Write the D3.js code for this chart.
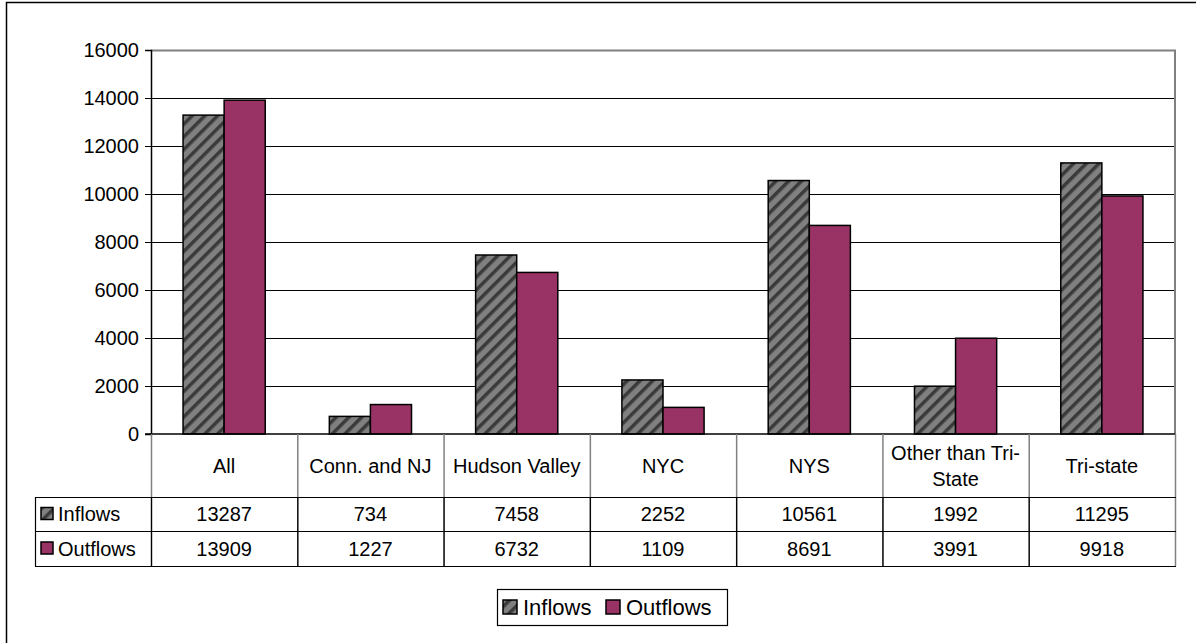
<!DOCTYPE html>
<html><head><meta charset="utf-8">
<script src="https://cdn.jsdelivr.net/npm/d3@7/dist/d3.min.js"></script>
<style>body{margin:0;background:#fff}svg{display:block;font-family:"Liberation Sans",Arial,sans-serif}</style>
</head><body><svg id="c" width="1196" height="643"></svg>
<script>
const categories = ["All","Conn. and NJ","Hudson Valley","NYC","NYS","Other than Tri-State","Tri-state"];
const categoryLines = [["All"],["Conn. and NJ"],["Hudson Valley"],["NYC"],["NYS"],["Other than Tri-","State"],["Tri-state"]];
const seriesNames = ["Inflows","Outflows"];
const inflows = [13287,734,7458,2252,10561,1992,11295];
const outflows = [13909,1227,6732,1109,8691,3991,9918];
const yTicks = [0,2000,4000,6000,8000,10000,12000,14000,16000];

const svg = d3.select("#c");
const L=151, R=1175, T=50, B=434;
const fs = 20;

const defs = svg.append("defs");
const pat = defs.append("pattern").attr("id","hatch").attr("patternUnits","userSpaceOnUse")
  .attr("width",9).attr("height",9).attr("patternTransform","rotate(45)");
pat.append("rect").attr("width",9).attr("height",9).attr("fill","#808080");
pat.append("rect").attr("width",3.5).attr("height",9).attr("fill","#3a3a3a");

const fills = ["url(#hatch)","#993366"];
const data = [inflows,outflows];

// outer border
svg.append("rect").attr("x",6.5).attr("y",2.5).attr("width",1200).attr("height",700)
  .attr("fill","none").attr("stroke","#000").attr("stroke-width",1.5);

const x = d3.scaleBand().domain(categories).range([L,R]).padding(0);
const y = d3.scaleLinear().domain([0,16000]).range([B,T]);
const xs = d3.scaleBand().domain(seriesNames).range([0,x.bandwidth()]).paddingInner(0).paddingOuter(0.78);

// gridlines
svg.append("g").selectAll("line").data(yTicks.filter(d=>d>0 && d<16000)).join("line")
  .attr("x1",L).attr("x2",R).attr("y1",d=>Math.round(y(d))+0.5).attr("y2",d=>Math.round(y(d))+0.5)
  .attr("stroke","#000").attr("stroke-width",1);

// plot border top/right gray
svg.append("path").attr("d",`M${L},${T+0.5}H${R}V${B}`).attr("fill","none").attr("stroke","#808080").attr("stroke-width",2);

// bars
const g = svg.append("g");
seriesNames.forEach((s,si)=>{
  g.selectAll(".b"+si).data(categories).join("rect")
    .attr("x",c=>x(c)+xs(s)).attr("width",xs.bandwidth())
    .attr("y",(c,i)=>y(data[si][i])).attr("height",(c,i)=>B-y(data[si][i]))
    .attr("fill",fills[si]).attr("stroke","#000").attr("stroke-width",1.5);
});

// y axis
const yAxis = d3.axisLeft(y).tickValues(yTicks).tickSize(6).tickPadding(6).tickFormat(d3.format("d"));
const ya = svg.append("g").attr("transform",`translate(${L},0)`).call(yAxis);
ya.select(".domain").attr("stroke","#000").attr("stroke-width",1.5);
ya.selectAll(".tick line").attr("stroke","#000");
ya.selectAll(".tick text").attr("font-size",fs).attr("fill","#000").attr("font-family","Liberation Sans, Arial, sans-serif");

// zero line
svg.append("line").attr("x1",L-6).attr("x2",R).attr("y1",B).attr("y2",B).attr("stroke","#000").attr("stroke-width",1.5);

// data table
const rowTops = [B, 497, 531, 566];
const TL = 35;
const tg = svg.append("g");
categories.forEach((c,i)=>{
  tg.append("line").attr("x1",x(c)+0.5).attr("x2",x(c)+0.5).attr("y1",B).attr("y2",rowTops[3]).attr("stroke","#808080").attr("stroke-width",1.5);
});
tg.append("line").attr("x1",R+0.5).attr("x2",R+0.5).attr("y1",B).attr("y2",rowTops[3]).attr("stroke","#808080").attr("stroke-width",1.5);
[1,2,3].forEach(r=>{
  tg.append("line").attr("x1",TL).attr("x2",R+1).attr("y1",rowTops[r]+0.5).attr("y2",rowTops[r]+0.5).attr("stroke","#000").attr("stroke-width",1.2);
});
tg.append("line").attr("x1",TL+0.5).attr("x2",TL+0.5).attr("y1",rowTops[1]).attr("y2",rowTops[3]).attr("stroke","#000").attr("stroke-width",1.2);
categories.forEach((c,i)=>{
  tg.append("line").attr("x1",x(c)+0.5).attr("x2",x(c)+0.5).attr("y1",rowTops[1]).attr("y2",rowTops[3]).attr("stroke","#000").attr("stroke-width",1.2);
});

// category labels
categories.forEach((c,i)=>{
  const lines = categoryLines[i];
  const cy = (rowTops[0]+rowTops[1])/2;
  const lh = 26;
  lines.forEach((ln,j)=>{
    tg.append("text").attr("x",x(c)+x.bandwidth()/2).attr("y",cy+(j-(lines.length-1)/2)*lh)
      .attr("dy","0.36em").attr("text-anchor","middle").attr("font-size",fs).attr("fill","#000").text(ln);
  });
});
// values
seriesNames.forEach((s,si)=>{
  const cy = (rowTops[si+1]+rowTops[si+2])/2;
  categories.forEach((c,i)=>{
    tg.append("text").attr("x",x(c)+x.bandwidth()/2).attr("y",cy).attr("dy","0.36em")
      .attr("text-anchor","middle").attr("font-size",fs).attr("fill","#000").text(data[si][i]);
  });
  tg.append("rect").attr("x",41).attr("y",cy-6.5).attr("width",12).attr("height",12)
    .attr("fill",fills[si]).attr("stroke","#000").attr("stroke-width",1.5);
  tg.append("text").attr("x",58).attr("y",cy).attr("dy","0.36em").attr("font-size",fs).attr("fill","#000").text(s);
});

// legend
const lg = svg.append("g");
const lfs = 22;
lg.append("rect").attr("x",497.5).attr("y",589.5).attr("width",230).attr("height",36)
  .attr("fill","#fff").attr("stroke","#000").attr("stroke-width",1.2);
const lx = [503, 606];
seriesNames.forEach((s,si)=>{
  lg.append("rect").attr("x",lx[si]).attr("y",600).attr("width",14).attr("height",14)
    .attr("fill",fills[si]).attr("stroke","#000").attr("stroke-width",1.5);
  lg.append("text").attr("x",lx[si]+20).attr("y",607).attr("dy","0.36em").attr("font-size",lfs).attr("fill","#000").text(s);
});
</script></body></html>
